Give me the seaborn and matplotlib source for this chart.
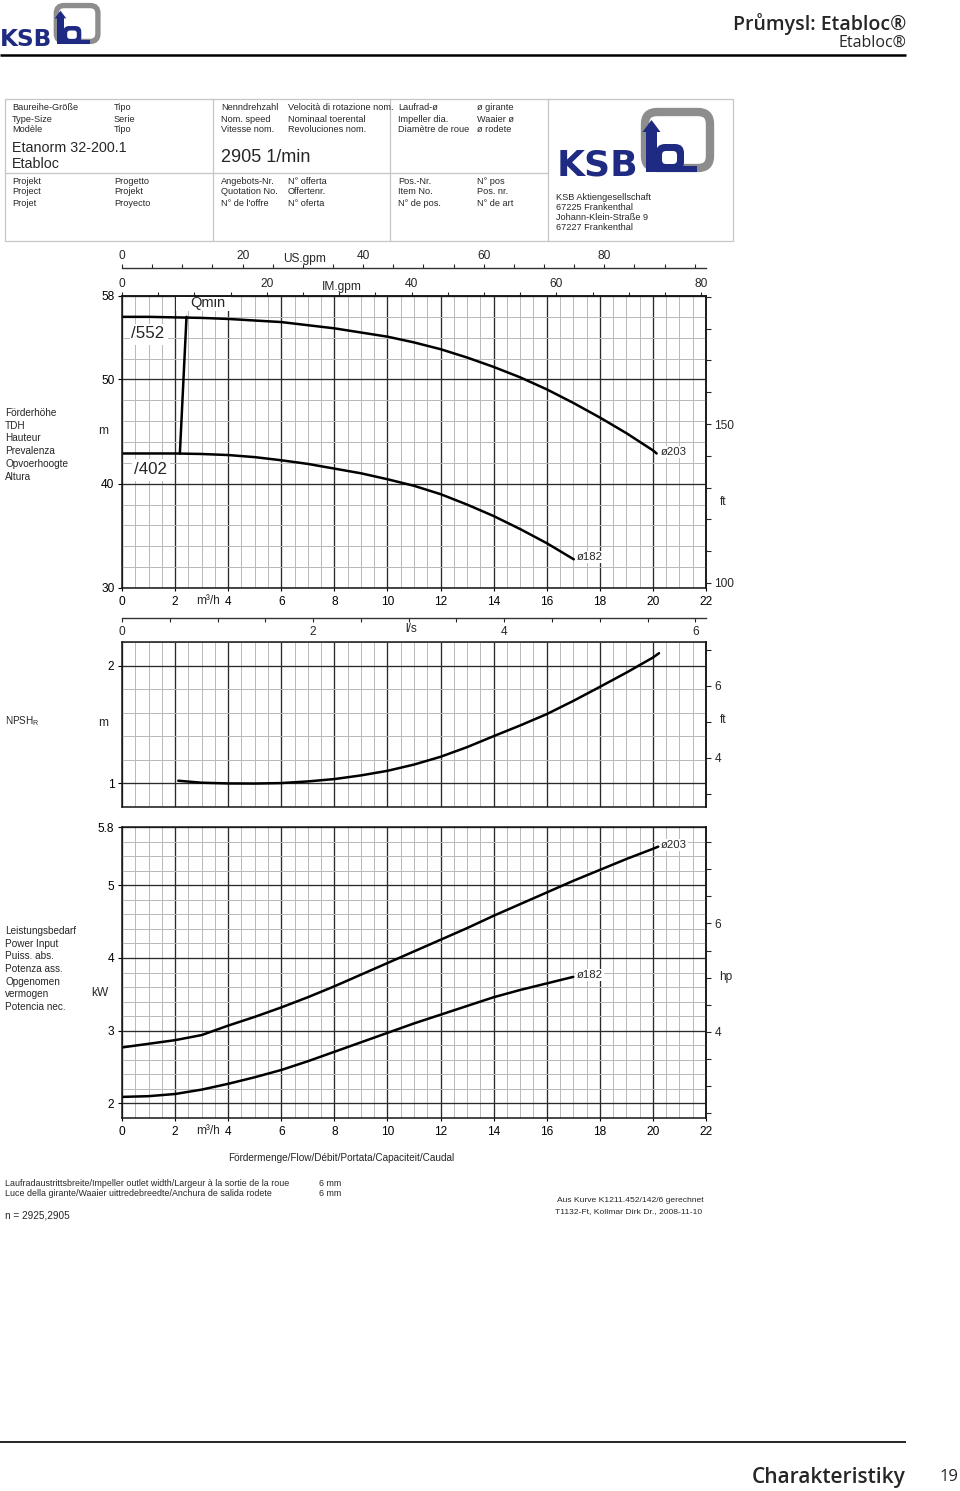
import matplotlib
matplotlib.use("Agg")
import matplotlib.pyplot as plt
import seaborn as sns
from matplotlib.ticker import MultipleLocator, FixedLocator
from matplotlib.patches import Rectangle, FancyBboxPatch, Polygon

# ------------------------------------------------------------------ data
FLOW_TICKS = [0, 2, 4, 6, 8, 10, 12, 14, 16, 18, 20, 22]

HEAD_Q_203 = [0, 1, 2, 3, 4, 5, 6, 7, 8, 9, 10, 11, 12, 13, 14, 15, 16, 17, 18, 19, 20, 20.14]
HEAD_203 = [56.0, 56.0, 55.95, 55.9, 55.8, 55.65, 55.5, 55.2, 54.9, 54.5, 54.1, 53.55, 52.9, 52.1,
            51.2, 50.2, 49.05, 47.75, 46.35, 44.85, 43.2, 42.9]

HEAD_Q_182 = [0, 1, 2, 3, 4, 5, 6, 7, 8, 9, 10, 11, 12, 13, 14, 15, 16, 17.02]
HEAD_182 = [42.9, 42.9, 42.9, 42.85, 42.75, 42.55, 42.25, 41.9, 41.45, 41.0, 40.43, 39.8, 39.0,
            38.0, 36.9, 35.65, 34.3, 32.75]

QMIN_Q = [2.18, 2.43]
QMIN_H = [42.9, 56.0]

NPSH_Q = [2.12, 3, 4, 5, 6, 7, 8, 9, 10, 11, 12, 13, 14, 15, 16, 17, 18, 19, 20, 20.23]
NPSH_R = [1.023, 1.006, 1.0, 0.999, 1.003, 1.017, 1.037, 1.068, 1.107, 1.160, 1.226, 1.308, 1.401,
          1.492, 1.588, 1.700, 1.819, 1.940, 2.068, 2.105]

POWER_Q_203 = [0, 1, 2, 3, 4, 5, 6, 7, 8, 9, 10, 11, 12, 13, 14, 15, 16, 17, 18, 19, 20, 20.2]
POWER_203 = [2.77, 2.82, 2.87, 2.94, 3.07, 3.19, 3.32, 3.46, 3.61, 3.77, 3.93, 4.09, 4.25, 4.41,
             4.58, 4.74, 4.90, 5.06, 5.21, 5.36, 5.50, 5.53]

POWER_Q_182 = [0, 1, 2, 3, 4, 5, 6, 7, 8, 9, 10, 11, 12, 13, 14, 15, 16, 17]
POWER_182 = [2.09, 2.10, 2.13, 2.19, 2.27, 2.36, 2.46, 2.58, 2.71, 2.84, 2.97, 3.10, 3.22, 3.34,
             3.46, 3.56, 3.65, 3.74]

HEAD_YTICKS = [30, 40, 50, 58]
NPSH_YTICKS = [1, 2]
POWER_YTICKS = [2, 3, 4, 5, 5.8]
GPM_TICKS = [0, 20, 40, 60, 80]
LS_TICKS = [0, 2, 4, 6]
FT_HEAD_TICKS = [100, 150]
FT_NPSH_TICKS = [4, 6]
HP_TICKS = [4, 6]

M3H_TO_USGPM = 4.402868
M3H_TO_IMGPM = 3.666154
M_TO_FT = 1 / 0.3048
KW_TO_HP = 1 / 0.745700

# ------------------------------------------------------------------ setup
sns.set_style("white")
plt.rcParams['font.family'] = ['Liberation Sans', 'DejaVu Sans']
plt.rcParams['mathtext.fontset'] = 'custom'
plt.rcParams['mathtext.rm'] = 'Liberation Sans'

W, H = 960, 1491
fig = plt.figure(figsize=(W / 100, H / 100), dpi=100)
fig.patch.set_facecolor('white')


def rect(x0, y0, x1, y1):
    return [x0 / W, 1 - y1 / H, (x1 - x0) / W, (y1 - y0) / H]


TICK = 8.6
SPINE = '#151515'
MAJ = dict(color='#2b2b2b', lw=0.95)
MIN = dict(color='#b8b8b8', lw=0.7)


def style_chart(ax, ylim, yticks, ylabels, ystep, xlabels=True):
    ax.set_xlim(0, 22)
    ax.set_ylim(*ylim)
    ax.set_xticks(FLOW_TICKS)
    ax.xaxis.set_minor_locator(MultipleLocator(0.5))
    ax.set_yticks(yticks, labels=ylabels)
    ax.yaxis.set_minor_locator(MultipleLocator(ystep))
    ax.grid(True, which='major', **MAJ)
    ax.grid(True, which='minor', **MIN)
    ax.set_axisbelow(True)
    for s in ax.spines.values():
        s.set_visible(True)
        s.set_color(SPINE)
        s.set_linewidth(1.1)
    ax.tick_params(which='minor', length=0)
    ax.tick_params(axis='y', which='major', left=True, length=3, width=0.8,
                   pad=2.5, labelsize=TICK, colors='black')
    ax.tick_params(axis='x', which='major', bottom=xlabels, length=2.5 if xlabels else 0,
                   width=0.8, pad=3, labelsize=TICK, labelbottom=xlabels, colors='black')
    ax.set_xlabel('')
    ax.set_ylabel('')


def right_axis(ax, fwd, inv, major, minor_step):
    sec = ax.secondary_yaxis('right', functions=(fwd, inv))
    sec.yaxis.set_major_locator(FixedLocator(major))
    sec.yaxis.set_minor_locator(MultipleLocator(minor_step))
    sec.tick_params(which='both', length=3.5, width=0.8, labelsize=TICK, pad=2.5)
    sec.spines['right'].set_color(SPINE)
    sec.spines['right'].set_linewidth(1.1)
    return sec


CURVE = dict(color='black', lw=1.8, sort=False, estimator=None, legend=False)

# ------------------------------------------------------------------ head chart
axh = fig.add_axes(rect(122, 296, 706, 588))
sns.lineplot(x=HEAD_Q_203, y=HEAD_203, ax=axh, **CURVE)
sns.lineplot(x=HEAD_Q_182, y=HEAD_182, ax=axh, **CURVE)
sns.lineplot(x=QMIN_Q, y=QMIN_H, ax=axh, **CURVE)
style_chart(axh, (30, 58), HEAD_YTICKS, [str(v) for v in HEAD_YTICKS], 2)
right_axis(axh, lambda m: m * M_TO_FT, lambda f: f / M_TO_FT, FT_HEAD_TICKS, 10)

top = axh.secondary_xaxis('top', functions=(lambda q: q * M3H_TO_IMGPM, lambda g: g / M3H_TO_IMGPM))
top.xaxis.set_major_locator(FixedLocator(GPM_TICKS))
top.xaxis.set_minor_locator(MultipleLocator(5))
top.tick_params(which='both', length=3, width=0.8, labelsize=TICK, pad=1.2)
top.spines['top'].set_color(SPINE)
top.spines['top'].set_linewidth(1.1)

# US.gpm scale
axu = fig.add_axes(rect(122, 267.5, 706, 268.5))
axu.set_xlim(0, 22 * M3H_TO_USGPM)
axu.set_ylim(0, 1)
axu.patch.set_alpha(0)
for s in ['left', 'right', 'bottom']:
    axu.spines[s].set_visible(False)
axu.spines['top'].set_color('#333333')
axu.spines['top'].set_linewidth(1.0)
axu.set_yticks([])
axu.xaxis.set_ticks_position('top')
axu.set_xticks(GPM_TICKS)
axu.xaxis.set_minor_locator(MultipleLocator(5))
axu.tick_params(axis='x', which='both', direction='out', length=3, width=0.8,
                labelsize=TICK, pad=1.2, top=True, bottom=False, labeltop=True, labelbottom=False)

# l/s scale
axl = fig.add_axes(rect(122, 616.5, 706, 617.5))
axl.set_xlim(0, 22 / 3.6)
axl.set_ylim(0, 1)
axl.patch.set_alpha(0)
for s in ['left', 'right', 'top']:
    axl.spines[s].set_visible(False)
axl.spines['bottom'].set_color('#333333')
axl.spines['bottom'].set_linewidth(1.0)
axl.set_yticks([])
axl.set_xticks(LS_TICKS)
axl.xaxis.set_minor_locator(MultipleLocator(0.5))
axl.tick_params(axis='x', which='both', direction='out', length=3, width=0.8,
                labelsize=TICK, pad=3, bottom=True)

# ------------------------------------------------------------------ NPSH chart
axn = fig.add_axes(rect(122, 642, 706, 807))
sns.lineplot(x=NPSH_Q, y=NPSH_R, ax=axn, **CURVE)
style_chart(axn, (0.8, 2.2), NPSH_YTICKS, [str(v) for v in NPSH_YTICKS], 0.2, xlabels=False)
right_axis(axn, lambda m: m * M_TO_FT, lambda f: f / M_TO_FT, FT_NPSH_TICKS, 1)

# ------------------------------------------------------------------ power chart
axp = fig.add_axes(rect(122, 827, 706, 1118))
sns.lineplot(x=POWER_Q_203, y=POWER_203, ax=axp, **CURVE)
sns.lineplot(x=POWER_Q_182, y=POWER_182, ax=axp, **CURVE)
style_chart(axp, (1.8, 5.8), POWER_YTICKS, ['2', '3', '4', '5', '5.8'], 0.2)
right_axis(axp, lambda k: k * KW_TO_HP, lambda h: h / KW_TO_HP, HP_TICKS, 0.5)

# ------------------------------------------------------------------ overlay (page furniture)
ov = fig.add_axes([0, 0, 1, 1], zorder=10)
ov.set_xlim(0, W)
ov.set_ylim(H, 0)
ov.axis('off')
ov.patch.set_alpha(0)


def T(x, y, s, size=7.2, ha='left', va='center', **kw):
    return ov.text(x, y, s, fontsize=size, ha=ha, va=va, **kw)


NAVY = '#1f2a82'
GRAY = '#8d8d8d'


def logo(ox, oy, s):
    def P(x, y):
        return (ox + x * s, oy + y * s)
    T(ox, oy + 67 * s, 'KSB', size=26 * s, ha='left', va='baseline', color=NAVY,
      fontweight='bold', family=['DejaVu Sans'])
    x0, y0 = P(88, 4)
    ov.add_patch(FancyBboxPatch((x0, y0), 65 * s, 56 * s,
                                boxstyle=f'round,pad=0,rounding_size={12 * s}',
                                fill=False, ec=GRAY, lw=6 * s))
    bx, by = P(99, 36)
    ov.add_patch(FancyBboxPatch((bx, by), 28 * s, 27 * s,
                                boxstyle=f'round,pad=0,rounding_size={9 * s}', fc=NAVY, ec='none'))
    hx, hy = P(105, 43)
    ov.add_patch(FancyBboxPatch((hx, hy), 15 * s, 13 * s,
                                boxstyle=f'round,pad=0,rounding_size={4 * s}', fc='white', ec='none'))
    sx, sy = P(89, 22)
    ov.add_patch(Rectangle((sx, sy), 11 * s, 41 * s, fc=NAVY, ec='none'))
    ax_, ay_ = P(89, 58)
    ov.add_patch(Rectangle((ax_, ay_), 51 * s, 5.5 * s, fc=NAVY, ec='none'))
    ov.add_patch(Polygon([P(85.5, 24), P(94.5, 12), P(103.5, 24)], closed=True, fc=NAVY, ec='none'))


# page header
logo(0, 3, 0.64)
T(906, 24, 'Pr\u016fmysl: Etabloc®', size=14, ha='right', family=['Open Sans', 'DejaVu Sans'],
  fontweight='semibold')
T(906, 43, 'Etabloc®', size=11.5, ha='right', family=['Open Sans', 'DejaVu Sans'])
ov.plot([0, 906], [55, 55], color='black', lw=1.8, solid_capstyle='butt')

# info box
BOX = '#c6c6c6'
ov.add_patch(Rectangle((5, 99), 728, 142, fill=False, ec=BOX, lw=0.9))
for xv in (213, 390, 548):
    ov.plot([xv, xv], [99, 241], color=BOX, lw=0.9)
ov.plot([5, 548], [173, 173], color=BOX, lw=0.9)

HS = 6.6
rows_a = [108, 119, 130]
rows_b = [181, 192, 203]
cols = {
    12: (['Baureihe-Größe', 'Type-Size', 'Modèle'], ['Projekt', 'Project', 'Projet']),
    114: (['Tipo', 'Serie', 'Tipo'], ['Progetto', 'Projekt', 'Proyecto']),
    221: (['Nenndrehzahl', 'Nom. speed', 'Vitesse nom.'], ['Angebots-Nr.', 'Quotation No.', "N° de l'offre"]),
    288: (['Velocità di rotazione nom.', 'Nominaal toerental', 'Revoluciones nom.'],
          ['N° offerta', 'Offertenr.', 'N° oferta']),
    398: (['Laufrad-ø', 'Impeller dia.', 'Diamètre de roue'], ['Pos.-Nr.', 'Item No.', 'N° de pos.']),
    477: (['ø girante', 'Waaier ø', 'ø rodete'], ['N° pos', 'Pos. nr.', 'N° de art']),
}
for x, (ta, tb) in cols.items():
    for y, s in zip(rows_a, ta):
        T(x, y, s, size=HS)
    for y, s in zip(rows_b, tb):
        T(x, y, s, size=HS)
T(12, 148, 'Etanorm 32-200.1', size=10.3)
T(12, 164, 'Etabloc', size=10.3)
T(221, 157, '2905 1/min', size=13)
for y, s in zip([197, 207, 217, 228],
                ['KSB Aktiengesellschaft', '67225 Frankenthal', 'Johann-Klein-Straße 9', '67227 Frankenthal']):
    T(556, y, s, size=HS)
logo(557, 108, 1.0)

# axis annotations
T(305, 259, 'US.gpm', size=TICK, ha='center')
T(342, 287, 'IM.gpm', size=TICK, ha='center')
T(411, 629, 'l/s', size=TICK, ha='center')
for yy in (601, 1131):
    T(208, yy, 'm³/h', size=TICK, ha='center')

# in-chart labels
ov.add_patch(Rectangle((176, 297), 55, 14, fc='white', ec='none'))
T(208, 303, 'Qmin', size=10.5, ha='center')
ov.add_patch(Rectangle((130, 324), 38, 21, fc='white', ec='none'))
T(148, 334, '/552', size=12.2, ha='center')
ov.add_patch(Rectangle((132, 459), 38, 22, fc='white', ec='none'))
T(151, 470, '/402', size=12.2, ha='center')
LB = dict(fc='white', ec='none', pad=0.6)
T(661, 452, 'ø203', size=8.2, bbox=LB)
T(577, 557, 'ø182', size=8.2, bbox=LB)
T(661, 845, 'ø203', size=8.2, bbox=LB)
T(577, 975, 'ø182', size=8.2, bbox=LB)

# unit labels
T(103, 431, 'm', size=TICK, ha='center')
T(723, 502, 'ft', size=TICK, ha='center')
T(103, 723, 'm', size=TICK, ha='center')
T(723, 720, 'ft', size=TICK, ha='center')
T(100, 993, 'kW', size=TICK, ha='center')
T(726, 977, 'hp', size=TICK, ha='center')

for y, s in zip([413, 426, 438, 451, 464, 477],
                ['Förderhöhe', 'TDH', 'Hauteur', 'Prevalenza', 'Opvoerhoogte', 'Altura']):
    T(5, y, s, size=7.2)
T(5, 721, r'NPSH$_\mathregular{R}$', size=7.2)
for y, s in zip([931, 944, 956, 969, 982, 994, 1007],
                ['Leistungsbedarf', 'Power Input', 'Puiss. abs.', 'Potenza ass.', 'Opgenomen',
                 'vermogen', 'Potencia nec.']):
    T(5, y, s, size=7.2)

T(341, 1158, 'Fördermenge/Flow/Débit/Portata/Capaciteit/Caudal', size=7.2, ha='center')

# footer notes
T(5, 1184, 'Laufradaustrittsbreite/Impeller outlet width/Largeur à la sortie de la roue', size=6.4)
T(5, 1194, 'Luce della girante/Waaier uittredebreedte/Anchura de salida rodete', size=6.4)
T(319, 1184, '6 mm', size=6.4)
T(319, 1194, '6 mm', size=6.4)
T(5, 1216, 'n = 2925,2905', size=7.2)
T(630, 1200, 'Aus Kurve K1211.452/142/6 gerechnet', size=6.1, ha='center')
T(629, 1212, 'T1132-Ft, Kollmar Dirk Dr., 2008-11-10', size=6.1, ha='center')

# page footer
ov.plot([0, 906], [1442, 1442], color='black', lw=1.2, solid_capstyle='butt')
T(906, 1477, 'Charakteristiky', size=15, ha='right', family=['Open Sans', 'DejaVu Sans'],
  fontweight='semibold')
T(958, 1477, '19', size=12, ha='right', family=['Open Sans', 'DejaVu Sans'])

fig.savefig('out.png', dpi=100, facecolor='white')
